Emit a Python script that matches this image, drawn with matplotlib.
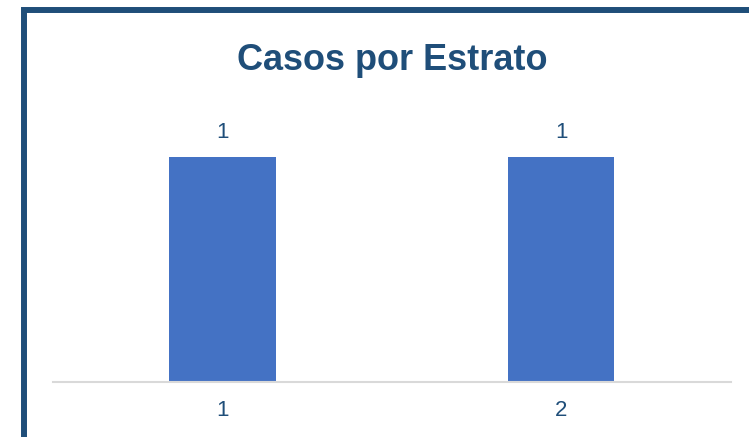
import matplotlib.pyplot as plt
from matplotlib.patches import Rectangle

# data
estratos = ['1', '2']
casos = [1, 1]

dark_blue = '#1f4e79'
bar_color = '#4472c4'
fonts = ['Liberation Sans', 'DejaVu Sans']

fig = plt.figure(figsize=(7.49, 4.37), dpi=100)
ax = fig.add_axes([0.0708, 0.127, 0.905, 0.617])

x = list(range(len(estratos)))
bars = ax.bar(x, casos, width=0.313, color=bar_color)
for b, v in zip(bars, casos):
    ax.text(b.get_x() + b.get_width() / 2, v + 0.085, str(v),
            ha='center', va='baseline', fontsize=16, color=dark_blue,
            family=fonts)

ax.set_xlim(-0.5, len(estratos) - 0.5)
ax.set_ylim(0, 1.2)
ax.set_xticks(x)
ax.set_xticklabels(estratos, fontsize=16, color=dark_blue, family=fonts)
ax.tick_params(axis='x', length=0, pad=13)
ax.set_yticks([])
for s in ['top', 'right', 'left']:
    ax.spines[s].set_visible(False)
ax.spines['bottom'].set_color('#d9d9d9')
ax.spines['bottom'].set_linewidth(1.5)

fig.text(392 / 749, (437 - 70) / 437, 'Casos por Estrato', ha='center',
         va='baseline', fontsize=26, fontweight='bold', color=dark_blue,
         family=fonts)

# frame border, cut off on right and bottom
fig.patches.append(Rectangle((24 / 749, -0.1), 1.2, (437 - 10) / 437 + 0.1,
                             transform=fig.transFigure, fill=False,
                             edgecolor=dark_blue, linewidth=4.3))

fig.savefig('out.png', dpi=100)
